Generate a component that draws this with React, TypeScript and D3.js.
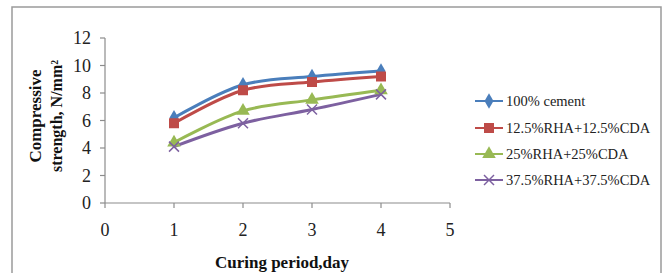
import { scaleLinear, line as d3line, curveCatmullRom, symbol, symbolDiamond, symbolSquare, symbolTriangle } from "d3";

const days = [1, 2, 3, 4];
const cement100 = [6.2, 8.6, 9.2, 9.6];
const rha125 = [5.8, 8.2, 8.8, 9.2];
const rha25 = [4.4, 6.7, 7.5, 8.2];
const rha375 = [4.1, 5.8, 6.8, 7.9];
const seriesNames = ["100% cement", "12.5%RHA+12.5%CDA", "25%RHA+25%CDA", "37.5%RHA+37.5%CDA"];
const xTicks = [0, 1, 2, 3, 4, 5];
const yTicks = [0, 2, 4, 6, 8, 10, 12];

const colors = ["#4a7ebb", "#be4b48", "#98b954", "#7d60a0"];
const markers = ["diamond", "square", "triangle", "x"];
const allSeries = [cement100, rha125, rha25, rha375];

const font = "Liberation Serif, DejaVu Serif, serif";

function Marker({ kind, x, y, color }: { kind: string; x: number; y: number; color: string }) {
  if (kind === "x") {
    const s = 5;
    return (
      <g stroke={color} strokeWidth={1.5}>
        <line x1={x - s} y1={y - s} x2={x + s} y2={y + s} />
        <line x1={x - s} y1={y + s} x2={x + s} y2={y - s} />
      </g>
    );
  }
  const type = kind === "diamond" ? symbolDiamond : kind === "square" ? symbolSquare : symbolTriangle;
  const size = kind === "diamond" ? 70 : kind === "square" ? 100 : 80;
  const d = symbol(type, size)() ?? undefined;
  return <path d={d} transform={`translate(${x},${y})`} fill={color} />;
}

export default function App() {
  const x = scaleLinear().domain([0, 5]).range([105, 450]);
  const y = scaleLinear().domain([0, 12]).range([203, 38]);

  const line = d3line<number>()
    .x((_, i) => x(days[i]))
    .y((d) => y(d))
    .curve(curveCatmullRom.alpha(0.5));

  const legendX = 475;
  const legendY = [101, 128, 154, 180];

  return (
    <svg
      width={666}
      height={273}
      style={{ position: "absolute", left: 0, top: 0, background: "#fff", fontFamily: font }}
    >
      {/* outer frame */}
      <rect x={12} y={7} width={649} height={280} fill="none" stroke="#9a9a9a" strokeWidth={1.5} />

      {/* axes */}
      <line x1={x(0)} y1={y(0)} x2={x(5)} y2={y(0)} stroke="#8c8c8c" strokeWidth={1.2} />
      <line x1={x(0)} y1={y(0)} x2={x(0)} y2={y(12)} stroke="#8c8c8c" strokeWidth={1.2} />

      {yTicks.map((t) => (
        <g key={"y" + t}>
          <line x1={x(0) - 5} y1={y(t)} x2={x(0)} y2={y(t)} stroke="#8c8c8c" strokeWidth={1.2} />
          <text x={91} y={y(t)} dy="0.35em" textAnchor="end" fontSize={18} fill="#222">
            {t}
          </text>
        </g>
      ))}

      {xTicks.map((t) => (
        <g key={"x" + t}>
          <line x1={x(t)} y1={y(0)} x2={x(t)} y2={y(0) + 5} stroke="#8c8c8c" strokeWidth={1.2} />
          <text x={x(t)} y={236} textAnchor="middle" fontSize={18} fill="#222">
            {t}
          </text>
        </g>
      ))}

      {/* axis titles */}
      <text x={282} y={268} textAnchor="middle" fontSize={17} fontWeight="bold" fill="#111">
        Curing period,day
      </text>
      <g transform="translate(0,116) rotate(-90)" fontWeight="bold" fill="#111" textAnchor="middle">
        <text x={0} y={41} fontSize={17}>
          Compressive
        </text>
        <text x={0} y={62} fontSize={16}>
          strength, N/mm²
        </text>
      </g>

      {/* series */}
      {allSeries.map((s, i) => (
        <path key={"l" + i} d={line(s) ?? undefined} fill="none" stroke={colors[i]} strokeWidth={3} />
      ))}
      {allSeries.map((s, i) =>
        s.map((v, j) => <Marker key={`m${i}-${j}`} kind={markers[i]} x={x(days[j])} y={y(v)} color={colors[i]} />)
      )}

      {/* legend */}
      {seriesNames.map((name, i) => (
        <g key={name}>
          <line x1={legendX} y1={legendY[i]} x2={legendX + 28} y2={legendY[i]} stroke={colors[i]} strokeWidth={2} />
          <Marker kind={markers[i]} x={legendX + 14} y={legendY[i]} color={colors[i]} />
          <text x={legendX + 31} y={legendY[i]} dy="0.35em" fontSize={14.5} fill="#222">
            {name}
          </text>
        </g>
      ))}
    </svg>
  );
}
